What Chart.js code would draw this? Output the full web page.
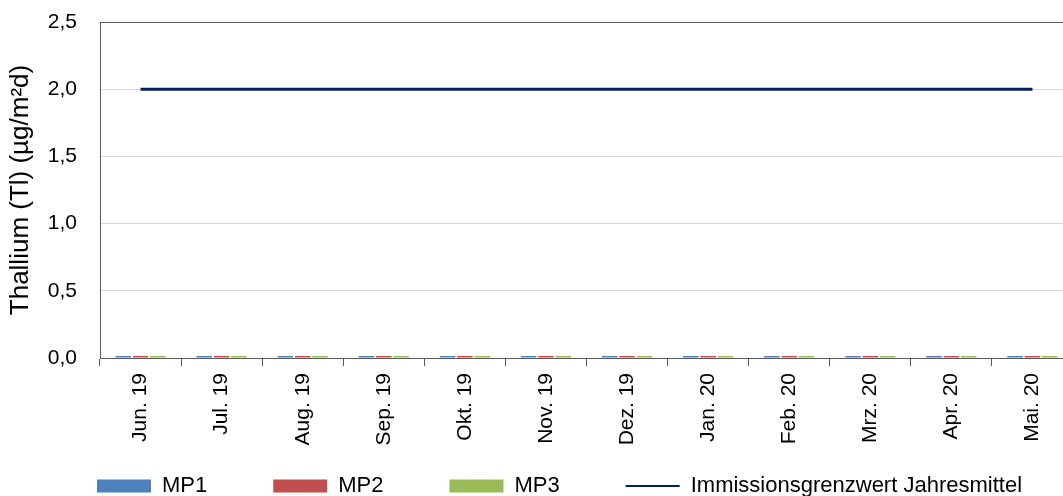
<!DOCTYPE html>
<html>
<head>
<meta charset="utf-8">
<script src="https://cdn.jsdelivr.net/npm/chart.js@4"></script>
<style>
  html, body { margin: 0; padding: 0; background: #fff; overflow: hidden; }
  #wrap { width: 1113px; height: 496px; }
</style>
</head>
<body>
<div id="wrap"><canvas id="graphic"></canvas></div>
<script>
// --- DATOS ---
const monate = ["Jun. 19", "Jul. 19", "Aug. 19", "Sep. 19", "Okt. 19", "Nov. 19",
                "Dez. 19", "Jan. 20", "Feb. 20", "Mrz. 20", "Apr. 20", "Mai. 20"];
const mp1 = [0, 0, 0, 0, 0, 0, 0, 0, 0, 0, 0, 0];
const mp2 = [0, 0, 0, 0, 0, 0, 0, 0, 0, 0, 0, 0];
const mp3 = [0, 0, 0, 0, 0, 0, 0, 0, 0, 0, 0, 0];
const grenzwert = [2, 2, 2, 2, 2, 2, 2, 2, 2, 2, 2, 2];
const yTicks = [0, 0.5, 1, 1.5, 2, 2.5];

const FONT = "'Liberation Sans', Arial, sans-serif";
const dunkel = "#595959";

// legende: breite abstände zwischen den einträgen, aber wenig höhe
const legendePlugin = {
    id: "legendeUnten",
    beforeLayout(chart) {
        const lg = chart.legend;
        if (lg && !lg._fitOrig) {
            lg._fitOrig = lg.fit;
            lg.fit = function () { this._fitOrig(); this.height = 46; };
        }
    },
    afterLayout(chart) {
        // nur die oberkante hochziehen, damit nichts abgeschnitten wird
        chart.legend.top -= 41;
    }
};

const ctx = document.getElementById("graphic").getContext("2d");

new Chart(ctx, {
    data: {
        labels: monate,
        datasets: [
            { type: "bar", label: "MP1", data: mp1, backgroundColor: "#4f81bd", minBarLength: 2 },
            { type: "bar", label: "MP2", data: mp2, backgroundColor: "#c0504d", minBarLength: 2 },
            { type: "bar", label: "MP3", data: mp3, backgroundColor: "#9bbb59", minBarLength: 2 },
            {
                type: "line",
                label: "Immissionsgrenzwert Jahresmittel",
                data: grenzwert,
                borderColor: "#002060",
                backgroundColor: "#002060",
                borderWidth: 3,
                pointRadius: 0,
                tension: 0
            }
        ]
    },
    plugins: [legendePlugin],
    options: {
        responsive: true,
        maintainAspectRatio: false,
        animation: false,
        layout: { padding: { left: 31, right: 0, top: 22, bottom: 0 } },
        datasets: {
            bar: { categoryPercentage: 0.64, barPercentage: 0.9 }
        },
        plugins: {
            tooltip: { enabled: false },
            legend: {
                position: "bottom",
                align: "start",
                labels: {
                    usePointStyle: true,
                    pointStyleWidth: 54,
                    boxHeight: 13,
                    padding: 66,
                    color: "#000",
                    font: { family: FONT, size: 22 },
                    sort: (a, b) => a.datasetIndex - b.datasetIndex,
                    generateLabels: chart =>
                        Chart.defaults.plugins.legend.labels.generateLabels(chart).map(item => {
                            const ds = chart.data.datasets[item.datasetIndex];
                            if (ds.type === "line") {
                                item.pointStyle = "line";
                                item.lineWidth = 2;
                                item.strokeStyle = ds.borderColor;
                            } else {
                                item.pointStyle = "rect";
                                item.lineWidth = 0;
                            }
                            return item;
                        })
                }
            }
        },
        scales: {
            x: {
                offset: true,
                grid: {
                    offset: true,
                    drawOnChartArea: false,
                    drawTicks: true,
                    tickLength: 8,
                    color: dunkel
                },
                border: { color: dunkel, width: 1 },
                ticks: {
                    minRotation: 90,
                    maxRotation: 90,
                    padding: 7,
                    color: "#000",
                    font: { family: FONT, size: 21 }
                },
                afterFit: s => { s.height = 92; }
            },
            y: {
                min: 0,
                max: 2.5,
                afterBuildTicks: s => { s.ticks = yTicks.map(v => ({ value: v })); },
                grid: {
                    drawTicks: true,
                    tickLength: 20,
                    tickColor: "rgba(0,0,0,0)",
                    color: c => (c.tick && c.tick.value === 2.5 ? dunkel : "#d9d9d9"),
                    lineWidth: 1
                },
                border: { color: dunkel, width: 1 },
                ticks: {
                    padding: 3,
                    color: "#000",
                    font: { family: FONT, size: 21 },
                    callback: v => v.toFixed(1).replace(".", ",")
                },
                title: {
                    display: true,
                    text: "Thallium (Tl) (µg/m²d)",
                    color: "#000",
                    font: { family: FONT, size: 26 },
                    padding: { top: -26, bottom: 0 }
                },
                afterFit: s => { s.width = 69; }
            },
            rechts: {
                position: "right",
                display: true,
                grid: { display: false },
                border: { display: false },
                ticks: { display: false },
                afterFit: s => { s.width = 40; }
            }
        }
    }
});
</script>
</body>
</html>
